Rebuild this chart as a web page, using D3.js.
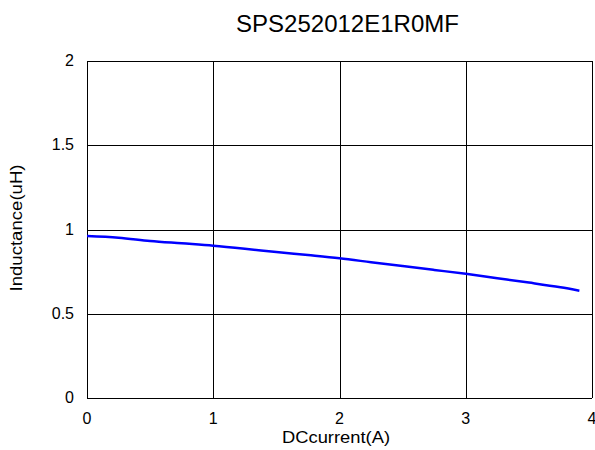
<!DOCTYPE html>
<html><head><meta charset="utf-8">
<script src="https://cdn.jsdelivr.net/npm/d3@7"></script>
<style>body{margin:0;background:#fff}svg{display:block}text{font-family:"Liberation Sans",Arial,sans-serif}</style>
</head><body>
<script>
const current = [0, 0.25, 0.5, 0.75, 1, 1.25, 1.5, 1.75, 2, 2.25, 2.5, 2.75, 3, 3.25, 3.5, 3.75, 3.9];
const inductance = [0.961, 0.951, 0.932, 0.918, 0.904, 0.886, 0.866, 0.848, 0.829, 0.806, 0.783, 0.760, 0.737, 0.711, 0.685, 0.657, 0.637];
const xTicks = [0, 1, 2, 3, 4];
const yTicks = [0, 0.5, 1, 1.5, 2];
const yTickLabels = ["0", "0.5", "1", "1.5", "2"];

const W = 595, H = 450;
const m = {left: 87, right: 3, top: 61, bottom: 52};
const svg = d3.select("body").append("svg").attr("width", W).attr("height", H);
const x = d3.scaleLinear().domain([0, 4]).range([m.left, W - m.right]);
const y = d3.scaleLinear().domain([0, 2]).range([H - m.bottom, m.top]);

// grid
svg.append("g").selectAll("line").data(xTicks).join("line")
  .attr("x1", d => Math.round(x(d)) + 0.5).attr("x2", d => Math.round(x(d)) + 0.5)
  .attr("y1", y(0)).attr("y2", y(2)).attr("stroke", "#000").attr("stroke-width", 1);
svg.append("g").selectAll("line").data(yTicks).join("line")
  .attr("y1", d => Math.round(y(d)) + 0.5).attr("y2", d => Math.round(y(d)) + 0.5)
  .attr("x1", x(0)).attr("x2", x(4)).attr("stroke", "#000").attr("stroke-width", 1);

// tick labels
svg.append("g").selectAll("text").data(xTicks).join("text")
  .attr("x", d => x(d)).attr("y", y(0) + 26).attr("text-anchor", "middle")
  .attr("font-size", 16).text(d => d);
svg.append("g").selectAll("text").data(yTicks).join("text")
  .attr("x", x(0) - 13).attr("y", d => y(d) + 5).attr("text-anchor", "end")
  .attr("font-size", 16).text((d, i) => yTickLabels[i]);

// line
const line = d3.line().x((d, i) => x(current[i])).y(d => y(d)).curve(d3.curveMonotoneX);
svg.append("path").datum(inductance).attr("d", line)
  .attr("fill", "none").attr("stroke", "#0000ff").attr("stroke-width", 2.5);

// labels
svg.append("text").attr("x", 347.5).attr("y", 31.5).attr("text-anchor", "middle")
  .attr("font-size", 24).text("SPS252012E1R0MF");
svg.append("text").attr("x", 336).attr("y", 443).attr("text-anchor", "middle")
  .attr("font-size", 17).attr("textLength", 108).attr("lengthAdjust", "spacingAndGlyphs").text("DCcurrent(A)");
svg.append("text").attr("transform", `translate(22,228) rotate(-90)`).attr("text-anchor", "middle")
  .attr("font-size", 17).attr("textLength", 127).attr("lengthAdjust", "spacingAndGlyphs").text("Inductance(uH)");
</script>
</body></html>
